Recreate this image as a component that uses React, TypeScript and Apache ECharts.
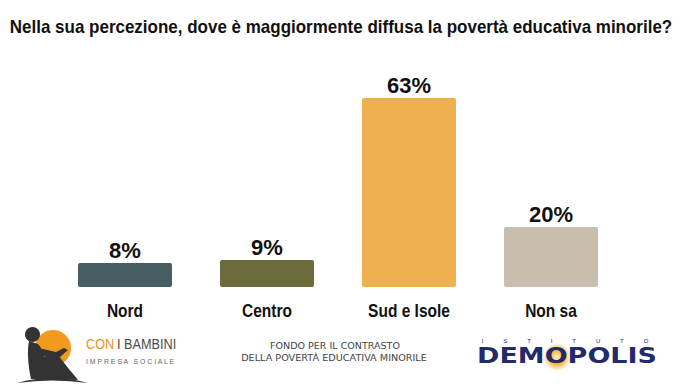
import React, { useEffect, useRef } from "react";
import * as echarts from "echarts";

const titleText = "Nella sua percezione, dove è maggiormente diffusa la povertà educativa minorile?";
const categories = ["Nord", "Centro", "Sud e Isole", "Non sa"];
const values = [8, 9, 63, 20];
const barColors = ["#465E62", "#6B6B3B", "#EFB050", "#C8BEAD"];

const SANS = "'Liberation Sans', Arial, sans-serif";
const DEJA = "'DejaVu Sans', sans-serif";

const childPath =
  "M 29 341 C 27 350 28 365 31 379 L 78 380 L 74 375 C 68 368 62 360 58 355 C 56 352 53 352 50 354 L 44 357 C 43 352 41 347 38 344 Z";
const groundPath = "M 17 383 Q 52 373 88 383 Q 52 378 17 383 Z";

let registered = false;

function measure(text: string, font: string): number {
  const c = document.createElement("canvas");
  const ctx = c.getContext("2d");
  if (!ctx) return 1;
  ctx.font = font;
  return ctx.measureText(text).width || 1;
}

export default function App() {
  const ref = useRef<HTMLDivElement>(null);
  useEffect(() => {
    if (!ref.current) return;
    if (!registered) {
      echarts.graphic.registerShape("childShape", echarts.graphic.extendPath(childPath, {}));
      echarts.graphic.registerShape("groundShape", echarts.graphic.extendPath(groundPath, {}));
      registered = true;
    }
    const chart = echarts.init(ref.current, null, { renderer: "svg" });
    chart.setOption({
      animation: false,
      backgroundColor: "#ffffff",
      grid: { left: 54, right: 60, top: 77, bottom: 101 },
      xAxis: {
        type: "category",
        data: categories,
        axisLine: { show: false },
        axisTick: { show: false },
        axisLabel: { show: false },
      },
      yAxis: { type: "value", min: 0, max: 70, show: false, splitLine: { show: false } },
      series: [
        {
          type: "bar",
          barWidth: 94,
          data: values.map((v, i) => ({ value: v, itemStyle: { color: barColors[i], borderRadius: 2 } })),
          label: {
            show: true,
            position: "top",
            distance: 2,
            formatter: "{c}%",
            fontSize: 22,
            fontWeight: "bold",
            fontFamily: SANS,
            color: "#111",
          },
        },
      ],
    });

    const titleScale = 663 / measure(titleText, `bold 19px ${SANS}`);
    const catScale = 82 / measure("Sud e Isole", `bold 19px ${SANS}`);
    const baseY = chart.convertToPixel({ yAxisIndex: 0 }, 0) as number;

    const catLabels = categories.map((c) => {
      const x = chart.convertToPixel({ xAxisIndex: 0 }, c) as number;
      return {
        type: "text",
        x,
        y: baseY + 23,
        scaleX: catScale,
        style: {
          text: c,
          fontSize: 19,
          fontWeight: "bold",
          fontFamily: SANS,
          fill: "#111",
          align: "center",
          verticalAlign: "middle",
        },
      };
    });

    const conScale = 91 / measure("CON I BAMBINI", `15px ${SANS}`);
    const f1Scale = 130 / measure("FONDO PER IL CONTRASTO", `9px ${DEJA}`);
    const f2Scale = 186 / measure("DELLA POVERTÀ EDUCATIVA MINORILE", `9px ${DEJA}`);
    const impScale = 90 / measure("I M P R E S A   S O C I A L E", `7px ${SANS}`);
    const demScale = 180 / measure("DEMOPOLIS", `bold 22px ${DEJA}`);

    chart.setOption({
      graphic: [
        {
          type: "text",
          x: 341,
          y: 27,
          scaleX: titleScale,
          style: {
            text: titleText,
            fontSize: 19,
            fontWeight: "bold",
            fontFamily: SANS,
            fill: "#111",
            align: "center",
            verticalAlign: "middle",
          },
        },
        ...catLabels,
        { type: "circle", shape: { cx: 53, cy: 348, r: 18 }, style: { fill: "#F29A1F" } },
        { type: "childShape", x: 0, y: 0, style: { fill: "#333333" } },
        { type: "circle", shape: { cx: 32.5, cy: 334.5, r: 7.5 }, style: { fill: "#333333" } },
        {
          type: "polygon",
          shape: { points: [[34, 347], [56, 352], [64, 348], [68, 350], [60, 357], [40, 356]] },
          style: { fill: "#333333" },
        },
        { type: "groundShape", x: 0, y: 0, style: { fill: "#333333" } },
        {
          type: "text",
          x: 86,
          y: 344,
          scaleX: conScale,
          style: {
            text: "{o|CON} {g|I BAMBINI}",
            verticalAlign: "middle",
            rich: {
              o: { fontSize: 15, fontFamily: SANS, fill: "#E8951C" },
              g: { fontSize: 15, fontFamily: SANS, fill: "#4A4A4A" },
            },
          },
        },
        {
          type: "text",
          x: 86,
          y: 361,
          scaleX: impScale,
          style: {
            text: "I M P R E S A   S O C I A L E",
            fontSize: 7,
            fontFamily: SANS,
            fill: "#666",
            verticalAlign: "middle",
          },
        },
        {
          type: "text",
          x: 335,
          y: 346,
          scaleX: f1Scale,
          style: {
            text: "FONDO PER IL CONTRASTO",
            fontSize: 9,
            fontFamily: DEJA,
            fill: "#444",
            align: "center",
            verticalAlign: "middle",
          },
        },
        {
          type: "text",
          x: 334,
          y: 358,
          scaleX: f2Scale,
          style: {
            text: "DELLA POVERTÀ EDUCATIVA MINORILE",
            fontSize: 9,
            fontFamily: DEJA,
            fill: "#444",
            align: "center",
            verticalAlign: "middle",
          },
        },
        {
          type: "text",
          x: 565,
          y: 341,
          style: {
            text: "I            S            T            I            T            U            T            O",
            fontSize: 6,
            fontFamily: SANS,
            fill: "#232A6B",
            align: "center",
            verticalAlign: "middle",
          },
        },
        {
          type: "circle",
          shape: { cx: 557, cy: 357, r: 14 },
          style: {
            fill: {
              type: "radial",
              x: 0.5,
              y: 0.5,
              r: 0.5,
              colorStops: [
                { offset: 0, color: "#FFF4C0" },
                { offset: 0.5, color: "#F6B23A" },
                { offset: 1, color: "rgba(246,178,58,0)" },
              ],
            },
          },
        },
        {
          type: "text",
          x: 567,
          y: 355,
          scaleX: demScale,
          style: {
            text: "DEMOPOLIS",
            fontSize: 22,
            fontWeight: "bold",
            fontFamily: DEJA,
            fill: "#232A6B",
            align: "center",
            verticalAlign: "middle",
          },
        },
      ],
    });
    return () => chart.dispose();
  }, []);
  return <div ref={ref} style={{ position: "fixed", left: 0, top: 0, width: 682, height: 388 }} />;
}
